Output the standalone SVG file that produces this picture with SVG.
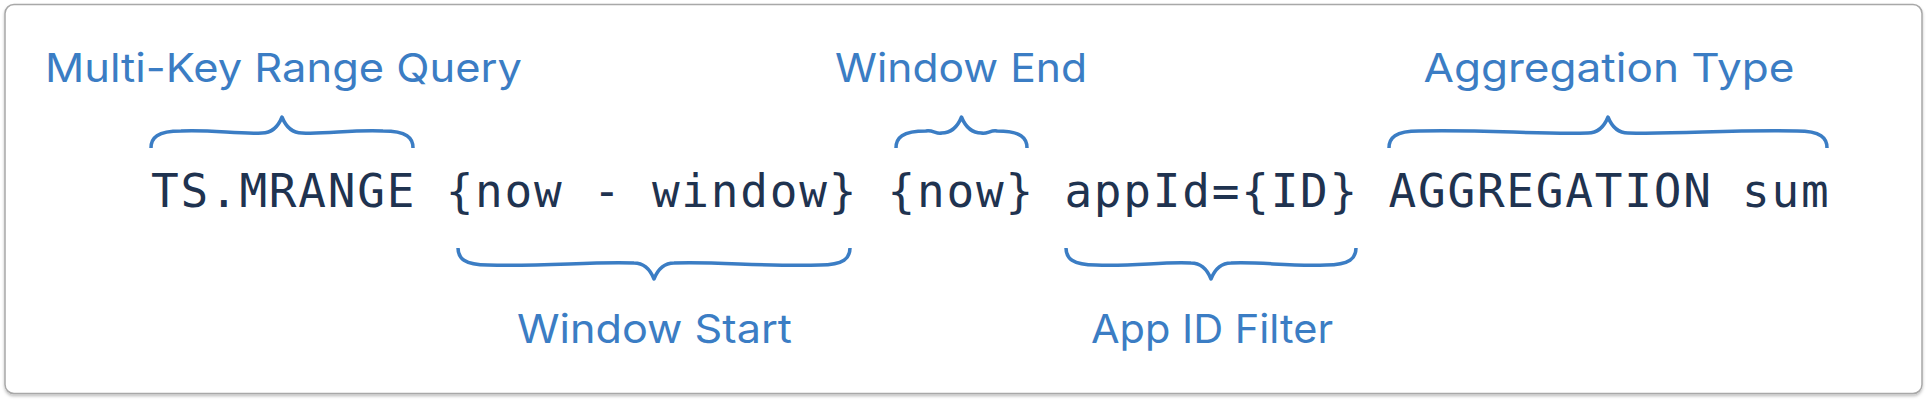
<svg xmlns="http://www.w3.org/2000/svg" width="1928" height="401" viewBox="0 0 1928 401">
  <defs>
    <filter id="shadow" x="-2%" y="-5%" width="104%" height="115%">
      <feDropShadow dx="0" dy="2" stdDeviation="1.5" flood-color="#000" flood-opacity="0.25"/>
    </filter>
  </defs>
  <style>
    .frame { fill: #ffffff; stroke: #a8a8a8; stroke-width: 1.5; }
    .label { font-family: "Inter", "Open Sans", "Liberation Sans", sans-serif; font-size: 40px; fill: #3b7dc4; text-anchor: middle; }
    .code { font-family: "DejaVu Sans Mono", "Liberation Mono", monospace; font-size: 46px; letter-spacing: 1.77px; fill: #1f3350; }
    .brace { fill: none; stroke: #3b7dc4; stroke-width: 3.5; stroke-linecap: butt; stroke-linejoin: round; }
  </style>

  <rect id="background" x="0" y="0" width="1928" height="401" fill="#ffffff"/>
  <rect id="frame" class="frame" x="5" y="4.5" width="1917" height="389" rx="9" ry="9" filter="url(#shadow)"/>

  <g id="command">
    <text class="code" x="151" y="207" xml:space="preserve">TS.MRANGE {now - window} {now} appId={ID} AGGREGATION sum</text>
  </g>

  <g id="label-multikey">
    <text class="label" x="283.5" y="82" textLength="477" lengthAdjust="spacingAndGlyphs">Multi-Key Range Query</text>
  </g>
  <g id="label-window-end">
    <text class="label" x="961" y="82" textLength="252" lengthAdjust="spacingAndGlyphs">Window End</text>
  </g>
  <g id="label-aggregation">
    <text class="label" x="1609" y="82" textLength="371" lengthAdjust="spacingAndGlyphs">Aggregation Type</text>
  </g>
  <g id="label-window-start">
    <text class="label" x="654.5" y="343" textLength="275" lengthAdjust="spacingAndGlyphs">Window Start</text>
  </g>
  <g id="label-appid">
    <text class="label" x="1212" y="343" textLength="242" lengthAdjust="spacingAndGlyphs">App ID Filter</text>
  </g>

  <g id="connectors">
    <path id="brace-multikey" class="brace" d="M151,148 C151,138 157,131 181,131 C213,129.5 238,134.5 262,133 C272,133 278,127 282,117 C286,127 292,133 302,133 C326,134.5 351,129.5 383,131 C407,131 413,138 413,148"/>
    <path id="brace-window-end" class="brace" d="M896,148 C896,138 902,131 926,131 C932,129.5 937,134.5 941.5,133 C951.5,133 957.5,127 961.5,117 C965.5,127 971.5,133 981.5,133 C986.5,134.5 991.5,129.5 997,131 C1021,131 1027,138 1027,148"/>
    <path id="brace-aggregation" class="brace" d="M1389,148 C1389,138 1395,131 1419,131 C1487,129.5 1537,134.5 1588,133 C1598,133 1604,127 1608,117 C1612,127 1618,133 1628,133 C1679,134.5 1729,129.5 1797,131 C1821,131 1827,138 1827,148"/>
    <g transform="translate(0,396) scale(1,-1)">
      <path id="brace-window-start" class="brace" d="M458,148 C458,138 464,131 488,131 C546,129.5 590,134.5 634,133 C644,133 650,127 654,117 C658,127 664,133 674,133 C718,134.5 762,129.5 820,131 C844,131 850,138 850,148"/>
      <path id="brace-appid" class="brace" d="M1066,148 C1066,138 1072,131 1096,131 C1134,129.5 1162.5,134.5 1191,133 C1201,133 1207,127 1211,117 C1215,127 1221,133 1231,133 C1259.5,134.5 1288,129.5 1326,131 C1350,131 1356,138 1356,148"/>
    </g>
  </g>
</svg>
